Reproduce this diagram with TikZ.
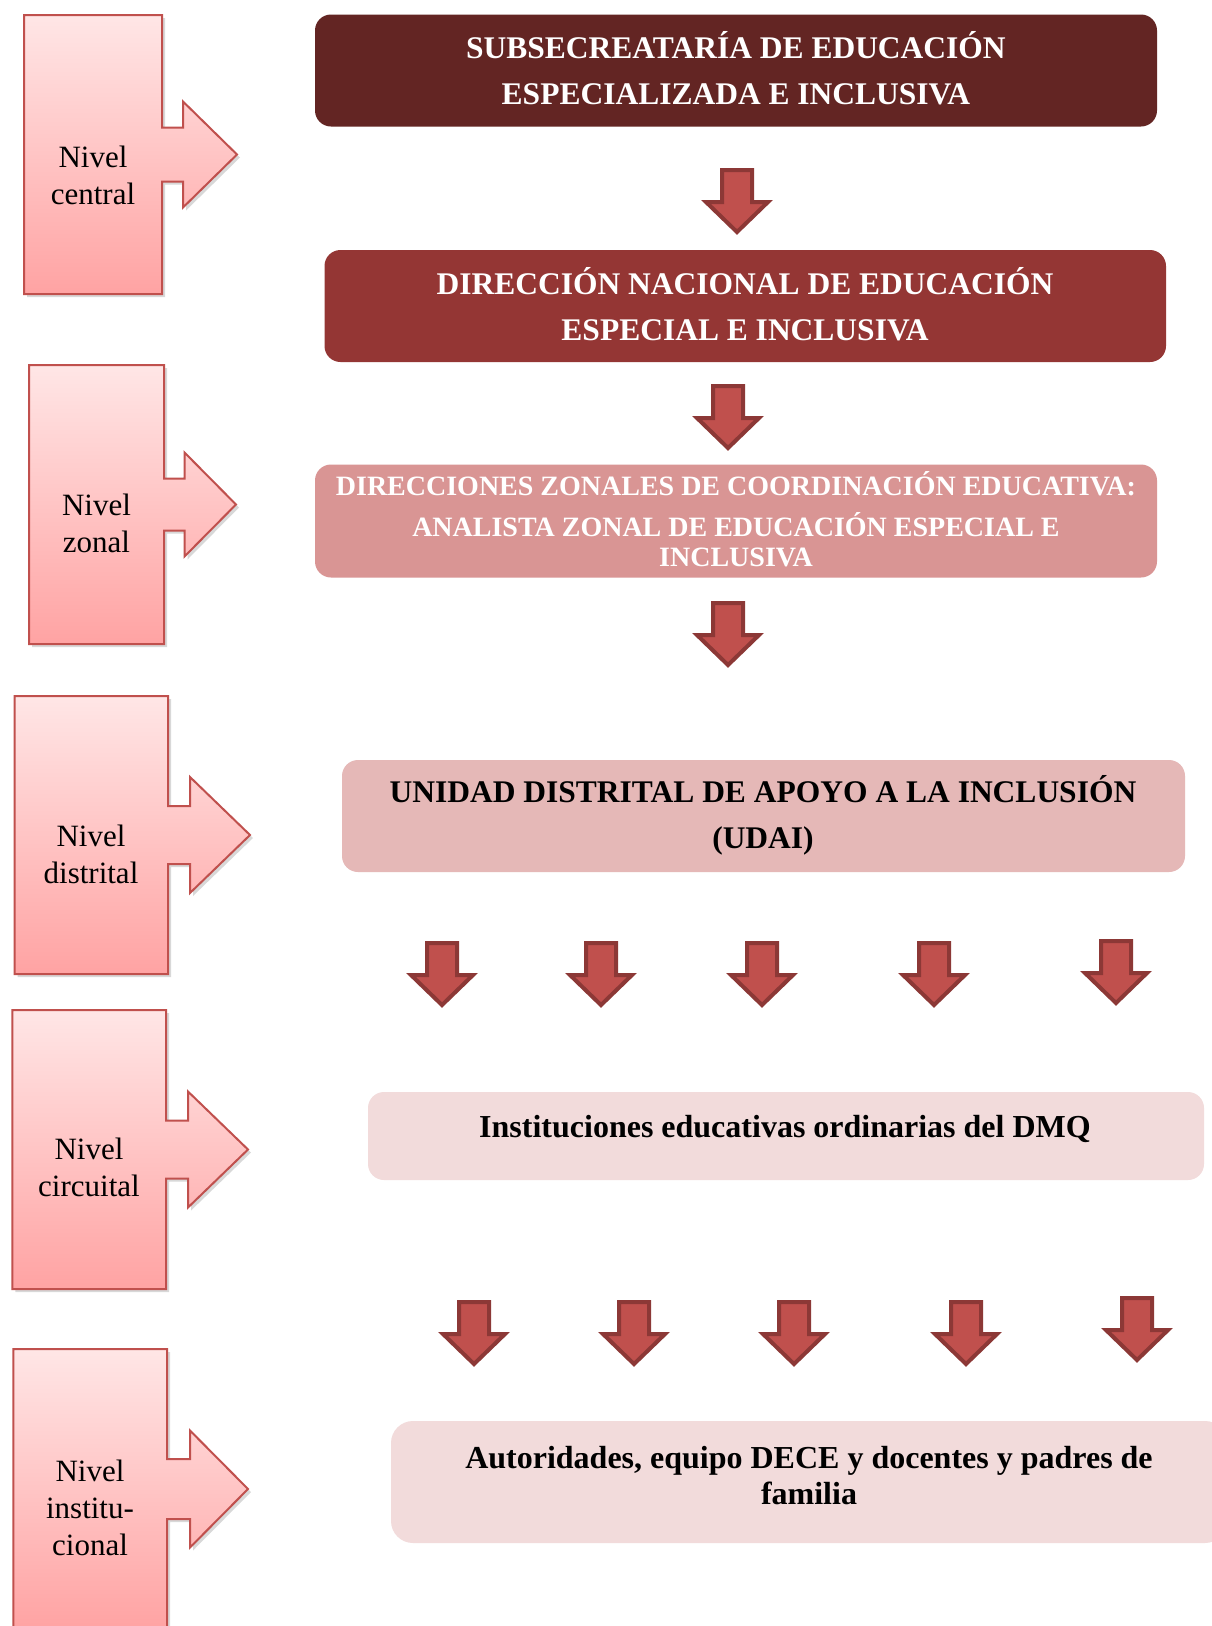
\documentclass[tikz,border=0pt]{standalone}
\usepackage{fontspec}
\setmainfont{Liberation Serif}
\usetikzlibrary{shadows}
\definecolor{cDark}{HTML}{632523}
\definecolor{cMid}{HTML}{943634}
\definecolor{cRose}{HTML}{D99594}
\definecolor{cPink}{HTML}{E5B8B7}
\definecolor{cPale}{HTML}{F2DBDB}
\definecolor{arrFill}{HTML}{C0504D}
\definecolor{arrLine}{HTML}{8C3836}
\definecolor{calTop}{HTML}{FFE6E6}
\definecolor{calBot}{HTML}{FFA3A3}
\definecolor{calLine}{HTML}{C0504D}
\tikzset{
  mainbox/.style={rounded corners=16, draw=none, inner sep=0},
  boxtext/.style={align=center, font=\bfseries\fontsize{31.5}{46}\selectfont, inner sep=0},
  barrow/.style={fill=arrFill, draw=arrLine, line width=4, line join=miter},
  callshape/.style={top color=calTop, bottom color=calBot, draw=calLine, line width=2,
    drop shadow={opacity=0.25, fill=black!60, shadow xshift=3pt, shadow yshift=-3pt}},
  calltext/.style={align=center, font=\fontsize{31}{37}\selectfont, inner sep=0},
}
% block arrow: centre x, outer top y
\newcommand\blockarrow[2]{%
  \draw[barrow] ({#1-15},{#2+2}) -- ({#1+15},{#2+2}) -- ({#1+15},{#2+34}) -- ({#1+31},{#2+34})
    -- (#1,{#2+64}) -- ({#1-31},{#2+34}) -- ({#1-15},{#2+34}) -- cycle;}
% callout: xl, yt, xr, yb, head base x, tip x, neck half, head half
\newcommand\levelcallout[8]{%
  \pgfmathsetmacro\cy{(#2+#4)/2}%
  \draw[callshape] (#1,#2) -- (#3,#2) -- (#3,{\cy-#7}) -- (#5,{\cy-#7}) -- (#5,{\cy-#8})
    -- (#6,\cy) -- (#5,{\cy+#8}) -- (#5,{\cy+#7}) -- (#3,{\cy+#7}) -- (#3,#4) -- (#1,#4) -- cycle;}
\begin{document}
\begin{tikzpicture}[x=1pt,y=-1pt]
\clip (0,0) rectangle (1212,1626);
\fill[white] (0,0) rectangle (1212,1626);

% left level callouts
\levelcallout{24}{15}{162}{294}{183}{237}{27}{53}
\node[calltext] (n1) at (93,175) {Nivel\\central};
\levelcallout{29}{365}{164}{644}{184.5}{236}{26}{52}
\node[calltext] (n2) at (96.5,523.5) {Nivel\\zonal};
\levelcallout{14.5}{696}{168}{974}{190}{250}{29}{58}
\node[calltext] (n3) at (91,854) {Nivel\\distrital};
\levelcallout{12.4}{1010}{166}{1289}{188}{248}{29}{58}
\node[calltext] (n4) at (89,1167) {Nivel\\circuital};
\levelcallout{13.3}{1349}{167}{1629}{190}{248}{30}{58.5}
\node[calltext] (n5) at (90,1508) {Nivel\\institu-\\cional};

% main boxes
\node[mainbox, fill=cDark, minimum width=842, minimum height=112] (b1) at (736,70.5) {};
\node[boxtext, text=white] (t1) at (736,68) {SUBSECREATARÍA DE EDUCACIÓN\\ESPECIALIZADA E INCLUSIVA};

\node[mainbox, fill=cMid, minimum width=841.5, minimum height=112] (b2) at (745.25,306) {};
\node[boxtext, text=white] (t2) at (745,304) {DIRECCIÓN NACIONAL DE EDUCACIÓN\\ESPECIAL E INCLUSIVA};

\node[mainbox, fill=cRose, minimum width=842, minimum height=113] (b3) at (736,521) {};
\node[boxtext, text=white, font=\bfseries\fontsize{28}{30}\selectfont] (t3) at (736,519)
  {DIRECCIONES ZONALES DE COORDINACIÓN EDUCATIVA:\\[11pt]ANALISTA ZONAL DE EDUCACIÓN ESPECIAL E\\INCLUSIVA};

\node[mainbox, fill=cPink, minimum width=843, minimum height=112] (b4) at (763.5,816) {};
\node[boxtext] (t4) at (763,815) {UNIDAD DISTRITAL DE APOYO A LA INCLUSIÓN\\(UDAI)};

\node[mainbox, fill=cPale, minimum width=836, minimum height=88] (b5) at (786,1136) {};
\node[boxtext, font=\bfseries\fontsize{32}{36}\selectfont] (t5) at (785,1129) {Instituciones educativas ordinarias del DMQ};

\node[mainbox, rounded corners=22, fill=cPale, minimum width=836, minimum height=122] (b6) at (809,1482) {};
\node[boxtext, font=\bfseries\fontsize{32}{36}\selectfont] (t6) at (809,1476) {Autoridades, equipo DECE y docentes y padres de\\familia};

% down arrows
\blockarrow{737}{168}
\blockarrow{728}{384}
\blockarrow{728}{601}
\blockarrow{442}{941}
\blockarrow{601}{941}
\blockarrow{762}{941}
\blockarrow{934}{941}
\blockarrow{1116}{939}
\blockarrow{474}{1300}
\blockarrow{634}{1300}
\blockarrow{794}{1300}
\blockarrow{966}{1300}
\blockarrow{1137}{1296}
\end{tikzpicture}
\end{document}
